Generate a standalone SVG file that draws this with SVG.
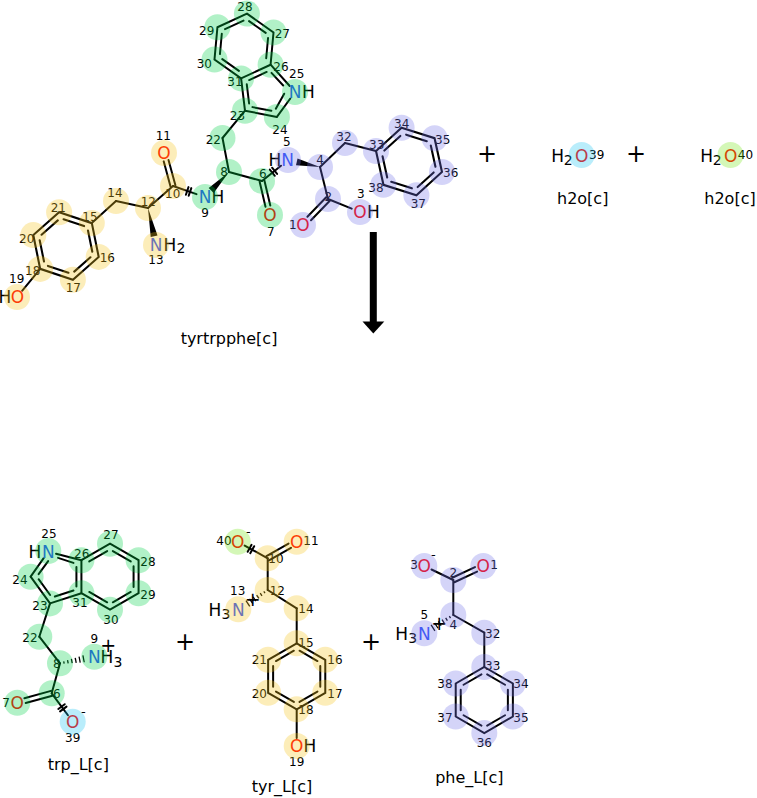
<svg xmlns="http://www.w3.org/2000/svg" width="757" height="798" viewBox="0 0 757 798">
<style>
.b{stroke:#000;stroke-width:2;fill:none;stroke-linecap:round}
.h line{stroke:#000;stroke-width:1.3}
.a{font-family:"DejaVu Sans",sans-serif;font-size:17px;text-anchor:middle;fill:#000}
.i{font-family:"DejaVu Sans",sans-serif;font-size:12px;text-anchor:middle;fill:#000}
.s{font-size:14px}
.c{font-size:19px}
.m{font-size:13px}
.N{fill:#3050f8}
.O{fill:#ff0000}
.nm{font-family:"DejaVu Sans",sans-serif;font-size:16px;text-anchor:middle;fill:#000}
.op{font-family:"DejaVu Sans",sans-serif;font-size:24px;text-anchor:middle;fill:#000}
.hl{opacity:0.3}
.hg{fill:#00d448}.hy{fill:#f8c61c}.hv{fill:#7373eb}.hb{fill:#16c3f2}.hm{fill:#70e412}
</style>
<defs>
<path id="hexO" d="M0,-33L28.58,-16.5L28.58,16.5L0,33L-28.58,16.5L-28.58,-16.5Z"/>
<path id="hexI" d="M2.83,-25.6L20.75,-15.25M23.58,-10.35L23.58,10.35M20.75,15.25L2.83,25.6M-2.83,25.6L-20.75,15.25M-23.58,10.35L-23.58,-10.35M-20.75,-15.25L-2.83,-25.6"/>
<path id="hexIf" d="M2.83,-25.6L20.75,-15.25M23.58,-10.35L23.58,10.35M-2.83,25.6L-20.75,15.25M-23.58,10.35L-23.58,-10.35M-20.75,-15.25L-2.83,-25.6"/>
</defs>
<rect width="757" height="798" fill="#fff"/>

<g id="tyrtrpphe">
<g class="b">
<use href="#hexO" transform="translate(66,246) rotate(48.5) scale(1.045)"/>
<use href="#hexI" transform="translate(66,246) rotate(48.5) scale(1.045)"/>
<use href="#hexO" transform="translate(409,161.5) rotate(-12.4) scale(1.048)"/>
<use href="#hexI" transform="translate(409,161.5) rotate(-12.4) scale(1.048)"/>
<use href="#hexO" transform="translate(244,46) rotate(5.2) scale(0.985)"/>
<use href="#hexIf" transform="translate(244,46) rotate(5.2) scale(0.985)"/>
<line x1="270.6" y1="64.7" x2="289.7" y2="86"/>
<line x1="290.3" y1="98.5" x2="276.9" y2="116.9"/>
<line x1="276.9" y1="116.9" x2="245" y2="110.7"/>
<line x1="245" y1="110.7" x2="241.1" y2="78.4"/>
<line x1="249.18" y1="80.06" x2="266.66" y2="71.96"/>
<line x1="271.49" y1="72.91" x2="283.22" y2="85.54"/>
<line x1="284.2" y1="93.69" x2="275.81" y2="108.75"/>
<line x1="271.35" y1="110.82" x2="252.44" y2="107.11"/>
<line x1="249.1" y1="103.5" x2="246.78" y2="84.36"/>
<line x1="116" y1="201" x2="91.8" y2="223.1"/>
<line x1="116" y1="201" x2="148" y2="208"/>
<line x1="148" y1="208" x2="173" y2="186"/>
<line x1="175.41" y1="185.34" x2="168.51" y2="160.04"/>
<line x1="170.59" y1="186.66" x2="163.69" y2="161.36"/>
<line x1="173" y1="186" x2="196.5" y2="194.1"/>
<line x1="185.9" y1="194.7" x2="188.5" y2="187.1"/>
<line x1="188.7" y1="195.7" x2="191.3" y2="188.1"/>
<line x1="229" y1="172" x2="222.5" y2="138"/>
<line x1="222.5" y1="138" x2="245" y2="110.7"/>
<line x1="229" y1="172" x2="262" y2="181"/>
<line x1="264.4" y1="180.4" x2="270.3" y2="205.6"/>
<line x1="259.6" y1="181.6" x2="265.5" y2="206.8"/>
<line x1="262" y1="181" x2="281" y2="165.7"/>
<line x1="269.8" y1="169.6" x2="274.8" y2="175.8"/>
<line x1="272.1" y1="167.7" x2="277.1" y2="173.9"/>
<line x1="320" y1="167" x2="345" y2="143"/>
<line x1="345" y1="143" x2="376" y2="151"/>
<line x1="320" y1="167" x2="328" y2="199"/>
<line x1="329.8" y1="200.7" x2="311" y2="220.2"/>
<line x1="326.2" y1="197.3" x2="307.4" y2="216.8"/>
<line x1="328" y1="199" x2="351.7" y2="208.6"/>
<line x1="40.2" y1="268.9" x2="22.1" y2="290.8"/>
</g>
<polygon points="229,172 213.7,192.9 208.7,188.1" fill="#000"/>
<polygon points="148,208 157.5,235.5 150.7,236.9" fill="#000"/>
<polygon points="320,167 297.5,158.5 296,165.3" fill="#000"/>
<text class="a O" x="164" y="159">O</text>
<text class="a N" x="205" y="203">N</text><text class="a" x="218" y="203">H</text>
<text class="a N" x="156" y="251">N</text><text class="a" x="170" y="251">H</text><text class="a s" x="181" y="253">2</text>
<text class="a O" x="270" y="221">O</text>
<text class="a" x="275" y="166">H</text><text class="a N" x="287.5" y="166">N</text>
<text class="a O" x="303" y="231">O</text>
<text class="a O" x="360" y="218">O</text><text class="a" x="373.5" y="218">H</text>
<text class="a N" x="295" y="98">N</text><text class="a" x="308.5" y="98">H</text>
<text class="a" x="5" y="303">H</text><text class="a O" x="17.5" y="303">O</text>
<g class="i">
<text x="245" y="11.4">28</text><text x="282.3" y="37.7">27</text><text x="206.7" y="35">29</text>
<text x="204.3" y="67.7">30</text><text x="235" y="86">31</text><text x="281" y="71">26</text>
<text x="296.7" y="78.4">25</text><text x="280" y="133.7">24</text><text x="237.5" y="120">23</text>
<text x="213.3" y="144.4">22</text><text x="224" y="176">8</text><text x="262.7" y="178.4">6</text>
<text x="270.7" y="236">7</text><text x="286.7" y="146">5</text><text x="320" y="164.4">4</text>
<text x="344" y="141">32</text><text x="376.7" y="149.4">33</text><text x="401.7" y="127.7">34</text>
<text x="442.7" y="143.7">35</text><text x="450.7" y="177">36</text><text x="418.3" y="207.7">37</text>
<text x="376" y="191.7">38</text><text x="328.3" y="201">2</text><text x="360.7" y="198.4">3</text>
<text x="292.7" y="229.4">1</text><text x="205" y="217">9</text><text x="172.7" y="198.4">10</text>
<text x="163.3" y="140.4">11</text><text x="148.3" y="206">12</text><text x="156" y="264.4">13</text>
<text x="115" y="197">14</text><text x="90" y="221">15</text><text x="107.3" y="262">16</text>
<text x="73.3" y="292">17</text><text x="32.7" y="275.4">18</text><text x="16.7" y="282.7">19</text>
<text x="26.7" y="242.7">20</text><text x="58.3" y="212">21</text>
</g>
<g class="hl hg">
<circle cx="222.5" cy="138" r="13"/><circle cx="245" cy="110.7" r="13"/><circle cx="276.9" cy="116.9" r="13"/>
<circle cx="295" cy="92" r="13"/><circle cx="270.6" cy="64.7" r="13"/><circle cx="273.5" cy="32.4" r="13"/>
<circle cx="246.9" cy="13.6" r="13"/><circle cx="217.4" cy="27.3" r="13"/><circle cx="214.5" cy="59.6" r="13"/>
<circle cx="241.1" cy="78.4" r="13"/><circle cx="229" cy="172" r="13"/><circle cx="205" cy="197" r="13"/>
<circle cx="262" cy="181" r="13"/><circle cx="270" cy="215" r="13"/>
</g>
<g class="hl hy">
<circle cx="173" cy="186" r="13"/><circle cx="164" cy="153" r="13"/><circle cx="148" cy="208" r="13"/>
<circle cx="156" cy="245" r="13"/><circle cx="116" cy="201" r="13"/><circle cx="91.8" cy="223.1" r="13"/>
<circle cx="98.7" cy="256.9" r="13"/><circle cx="72.9" cy="279.8" r="13"/><circle cx="40.2" cy="268.9" r="13"/>
<circle cx="33.3" cy="235.1" r="13"/><circle cx="59.1" cy="212.2" r="13"/><circle cx="17" cy="297" r="13"/>
</g>
<g class="hl hv">
<circle cx="303" cy="225" r="13"/><circle cx="328" cy="199" r="13"/><circle cx="360" cy="212" r="13"/>
<circle cx="320" cy="167" r="13"/><circle cx="288" cy="160" r="13"/><circle cx="345" cy="143" r="13"/>
<circle cx="376" cy="151" r="13"/><circle cx="401.6" cy="127.7" r="13"/><circle cx="434.6" cy="138.2" r="13"/>
<circle cx="442" cy="172" r="13"/><circle cx="416.4" cy="195.3" r="13"/><circle cx="383.4" cy="184.8" r="13"/>
</g>
<text class="nm" x="229" y="344">tyrtrpphe[c]</text>
</g>

<g id="h2o_39">
<text class="a" x="557.7" y="162.2">H</text><text class="a s" x="568.3" y="165">2</text><text class="a O" x="581.7" y="162.2">O</text>
<text class="i" x="596.7" y="159.4">39</text>
<circle class="hl hb" cx="581.7" cy="155" r="13"/>
<text class="nm" x="582.7" y="204">h2o[c]</text>
</g>

<g id="h2o_40">
<text class="a" x="706.7" y="162.2">H</text><text class="a s" x="717.3" y="165">2</text><text class="a O" x="730.7" y="162.2">O</text>
<text class="i" x="745.5" y="159.4">40</text>
<circle class="hl hm" cx="730.5" cy="155" r="13"/>
<text class="nm" x="730" y="204">h2o[c]</text>
</g>

<g id="trp_L">
<g class="b">
<use href="#hexO" transform="translate(110,576.7)"/>
<use href="#hexIf" transform="translate(110,576.7) rotate(120)"/>
<line x1="81.41" y1="560.2" x2="56.04" y2="553.7"/>
<line x1="43.68" y1="558.2" x2="30.63" y2="576.7"/>
<line x1="30.63" y1="576.7" x2="50.03" y2="603.4"/>
<line x1="50.03" y1="603.4" x2="81.41" y2="593.2"/>
<line x1="76.42" y1="566.92" x2="76.42" y2="586.48"/>
<line x1="73.48" y1="590.53" x2="54.87" y2="596.57"/>
<line x1="50.11" y1="595.03" x2="38.62" y2="579.2"/>
<line x1="38.62" y1="574.2" x2="48.15" y2="561.08"/>
<line x1="58.05" y1="557.86" x2="73.48" y2="562.87"/>
<line x1="50.03" y1="603.4" x2="39.3" y2="636.7"/>
<line x1="39.3" y1="636.7" x2="60" y2="663.3"/>
<line x1="60" y1="663.3" x2="51.7" y2="693.3"/>
<line x1="52.36" y1="695.71" x2="25.68" y2="703.01"/>
<line x1="51.04" y1="690.89" x2="24.36" y2="698.19"/>
<line x1="51.7" y1="693.3" x2="67.94" y2="715.27"/>
<line x1="58.3" y1="708.95" x2="64.74" y2="704.19"/>
<line x1="60.08" y1="711.36" x2="66.52" y2="706.6"/>
</g>
<g class="h">
<line x1="64.14" y1="663.61" x2="63.72" y2="661.47"/>
<line x1="68.16" y1="663.34" x2="67.56" y2="660.24"/>
<line x1="72.17" y1="663.07" x2="71.39" y2="658.99"/>
<line x1="76.2" y1="662.8" x2="75.22" y2="657.76"/>
<line x1="80.22" y1="662.52" x2="79.06" y2="656.52"/>
<line x1="84.24" y1="662.25" x2="82.9" y2="655.27"/>
</g>
<text class="a" x="35" y="557.9">H</text><text class="a N" x="48.3" y="557.9">N</text>
<text class="a N" x="94.3" y="662.9">N</text><text class="a" x="107" y="662.9">H</text><text class="a s" x="118" y="666.5">3</text>
<text class="a c" x="108.3" y="652">+</text>
<text class="a O" x="17.3" y="708.9">O</text>
<text class="a O" x="72.7" y="727.9">O</text><text class="a m" x="83.3" y="715.7">-</text>
<g class="i">
<text x="49" y="538.4">25</text><text x="81.7" y="557.7">26</text><text x="111" y="539.4">27</text>
<text x="148" y="566">28</text><text x="148" y="599.4">29</text><text x="111" y="624.4">30</text>
<text x="80" y="607.4">31</text><text x="20" y="583.7">24</text><text x="40" y="610.4">23</text>
<text x="30" y="642.4">22</text><text x="94.3" y="643.4">9</text><text x="56.7" y="668.4">8</text>
<text x="56.7" y="698.4">6</text><text x="6" y="707">7</text><text x="72.7" y="741.7">39</text>
</g>
<g class="hl hg">
<circle cx="48.3" cy="551" r="13"/><circle cx="81.4" cy="560.2" r="13"/><circle cx="110" cy="543.7" r="13"/>
<circle cx="138.6" cy="560.2" r="13"/><circle cx="138.6" cy="593.2" r="13"/><circle cx="110" cy="609.7" r="13"/>
<circle cx="81.4" cy="593.2" r="13"/><circle cx="30.6" cy="576.7" r="13"/><circle cx="50" cy="603.4" r="13"/>
<circle cx="39.3" cy="636.7" r="13"/><circle cx="60" cy="663.3" r="13"/><circle cx="94.3" cy="656.7" r="13"/>
<circle cx="51.7" cy="693.3" r="13"/><circle cx="17.3" cy="702.7" r="13"/>
</g>
<circle class="hl hb" cx="72.7" cy="721.7" r="13"/>
<text class="nm" x="78.3" y="769.5">trp_L[c]</text>
</g>

<g id="tyr_L">
<g class="b">
<use href="#hexO" transform="translate(296.7,676.3)"/>
<use href="#hexI" transform="translate(296.7,676.3)"/>
<line x1="267.7" y1="558.3" x2="244.7" y2="545.57"/>
<line x1="250.27" y1="553.23" x2="254.15" y2="546.23"/>
<line x1="247.65" y1="551.78" x2="251.53" y2="544.78"/>
<line x1="268.94" y1="560.47" x2="291" y2="547.85"/>
<line x1="266.46" y1="556.13" x2="288.52" y2="543.51"/>
<line x1="267.7" y1="558.3" x2="267.7" y2="590"/>
<line x1="267.7" y1="590" x2="296.7" y2="608.3"/>
<line x1="296.7" y1="608.3" x2="296.7" y2="643.3"/>
<line x1="296.7" y1="709.3" x2="296.7" y2="738"/>
</g>
<g class="h">
<line x1="264.99" y1="593.13" x2="263.79" y2="591.37"/>
<line x1="261.94" y1="595.77" x2="260.22" y2="593.23"/>
<line x1="258.9" y1="598.39" x2="256.66" y2="595.09"/>
<line x1="255.85" y1="601.02" x2="253.09" y2="596.96"/>
<line x1="252.8" y1="603.65" x2="249.52" y2="598.83"/>
<line x1="249.75" y1="606.29" x2="245.95" y2="600.69"/>
</g>
<text class="a O" x="237.7" y="547.9">O</text><text class="a m" x="248.3" y="535.7">-</text>
<text class="a O" x="296.7" y="547.9">O</text>
<text class="a" x="215" y="615.5">H</text><text class="a s" x="226" y="619">3</text><text class="a N" x="238.3" y="615.5">N</text>
<text class="a c" x="252.7" y="606">+</text>
<text class="a O" x="296.7" y="752.2">O</text><text class="a" x="309.8" y="752.2">H</text>
<g class="i">
<text x="224" y="545.1">40</text><text x="311" y="545.1">11</text><text x="276" y="562.7">10</text>
<text x="277.3" y="595.4">12</text><text x="237.7" y="595.4">13</text><text x="306" y="613.4">14</text>
<text x="306" y="647.1">15</text><text x="335" y="664.4">16</text><text x="335" y="697.7">17</text>
<text x="306" y="714.4">18</text><text x="259.3" y="697.7">20</text><text x="259.3" y="664.4">21</text>
<text x="296.7" y="766.1">19</text>
</g>
<g class="hl hy">
<circle cx="296.7" cy="541.7" r="13"/><circle cx="267.7" cy="558.3" r="13"/><circle cx="267.7" cy="590" r="13"/>
<circle cx="238.3" cy="609.3" r="13"/><circle cx="296.7" cy="608.3" r="13"/><circle cx="296.7" cy="643.3" r="13"/>
<circle cx="325.3" cy="659.8" r="13"/><circle cx="325.3" cy="692.8" r="13"/><circle cx="296.7" cy="709.3" r="13"/>
<circle cx="268.1" cy="692.8" r="13"/><circle cx="268.1" cy="659.8" r="13"/><circle cx="296.7" cy="746" r="13"/>
</g>
<circle class="hl hm" cx="237.7" cy="541.7" r="13"/>
<text class="nm" x="282" y="791.5">tyr_L[c]</text>
</g>

<g id="phe_L">
<g class="b">
<use href="#hexO" transform="translate(484.3,700)"/>
<use href="#hexI" transform="translate(484.3,700)"/>
<line x1="453.3" y1="580" x2="431.5" y2="569.5"/>
<line x1="454.36" y1="582.27" x2="477.11" y2="571.65"/>
<line x1="452.24" y1="577.73" x2="474.99" y2="567.11"/>
<line x1="453.3" y1="580" x2="453.3" y2="615"/>
<line x1="453.3" y1="615" x2="484.3" y2="632.7"/>
<line x1="484.3" y1="632.7" x2="484.3" y2="667"/>
</g>
<g class="h">
<line x1="450.5" y1="618.06" x2="449.34" y2="616.22"/>
<line x1="447.37" y1="620.6" x2="445.69" y2="617.94"/>
<line x1="444.25" y1="623.15" x2="442.05" y2="619.67"/>
<line x1="441.12" y1="625.7" x2="438.4" y2="621.38"/>
<line x1="438" y1="628.24" x2="434.76" y2="623.12"/>
<line x1="434.88" y1="630.8" x2="431.12" y2="624.84"/>
</g>
<text class="a O" x="424.3" y="572.2">O</text><text class="a m" x="433.3" y="559">-</text>
<text class="a O" x="483.3" y="572.2">O</text>
<text class="a" x="401.7" y="639.5">H</text><text class="a s" x="412.7" y="643">3</text><text class="a N" x="424.3" y="639.5">N</text>
<text class="a c" x="439.3" y="629.5">+</text>
<g class="i">
<text x="414" y="569.4">3</text><text x="494" y="569.4">1</text><text x="453.3" y="577.1">2</text>
<text x="453.3" y="629.4">4</text><text x="424.3" y="619.4">5</text><text x="492.7" y="637.7">32</text>
<text x="492.7" y="670.4">33</text><text x="521" y="688.4">34</text><text x="521" y="721.7">35</text>
<text x="484.3" y="746.7">36</text><text x="445" y="721.7">37</text><text x="445" y="688.4">38</text>
</g>
<g class="hl hv">
<circle cx="424.3" cy="566" r="13"/><circle cx="483.3" cy="566" r="13"/><circle cx="453.3" cy="580" r="13"/>
<circle cx="453.3" cy="615" r="13"/><circle cx="424.3" cy="633.3" r="13"/><circle cx="484.3" cy="632.7" r="13"/>
<circle cx="484.3" cy="667" r="13"/><circle cx="512.9" cy="683.5" r="13"/><circle cx="512.9" cy="716.5" r="13"/>
<circle cx="484.3" cy="733" r="13"/><circle cx="455.7" cy="716.5" r="13"/><circle cx="455.7" cy="683.5" r="13"/>
</g>
<text class="nm" x="469.3" y="782.8">phe_L[c]</text>
</g>

<g id="connectors">
<line x1="373.3" y1="232" x2="373.3" y2="323" stroke="#000" stroke-width="7"/>
<polygon points="362.5,321.5 384.3,321.5 373.3,333.5" fill="#000"/>
<text class="op" x="487" y="161.6">+</text>
<text class="op" x="636" y="161.6">+</text>
<text class="op" x="185" y="649.6">+</text>
<text class="op" x="371" y="649.6">+</text>
</g>
</svg>
